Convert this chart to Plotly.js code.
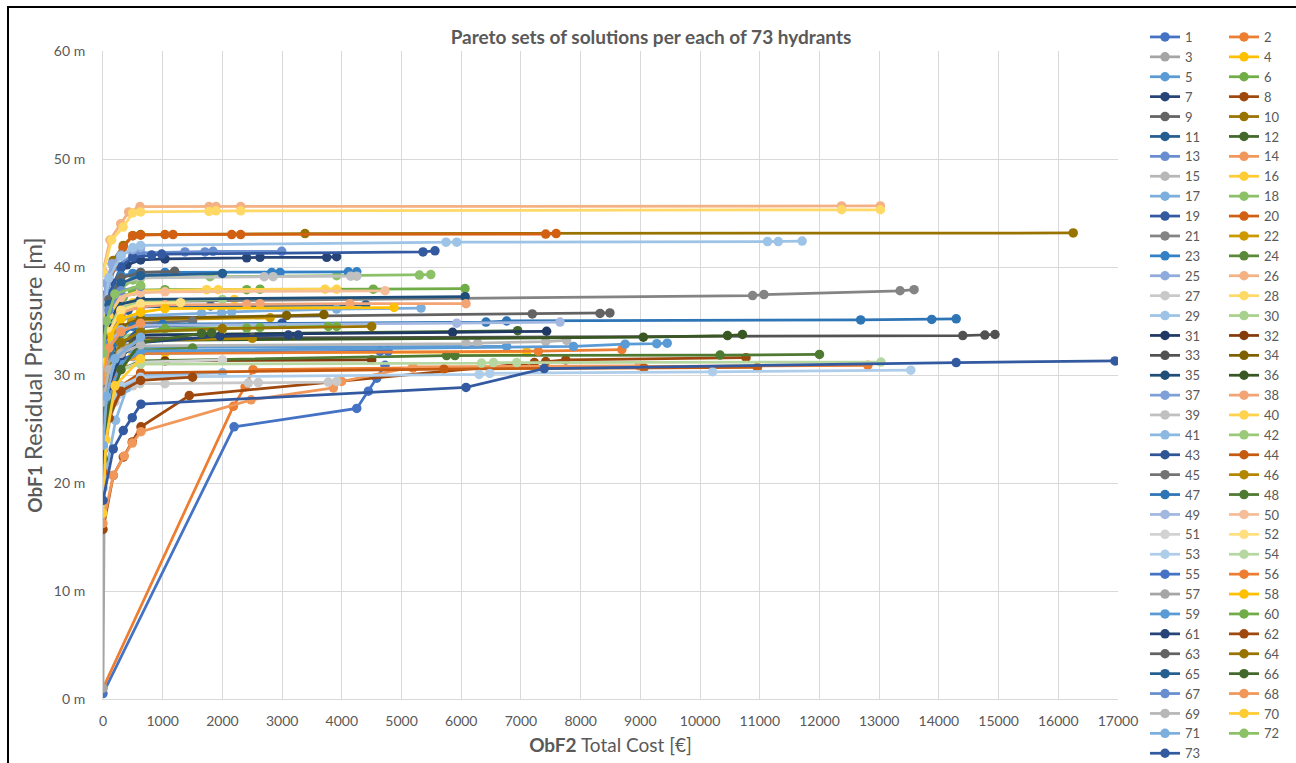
<!DOCTYPE html>
<html>
<head>
<meta charset="utf-8">
<script src="https://cdn.plot.ly/plotly-3.0.1.min.js"></script>
<style>
  html, body { margin: 0; padding: 0; background: #ffffff; overflow: hidden; }
  #chart { position: absolute; left: 0; top: 0; width: 1296px; height: 763px; }
  #frame { position: absolute; left: 7px; top: 6px; width: 1400px; height: 900px;
           border-left: 2px solid #000; border-top: 2px solid #000; pointer-events: none; z-index: 5; }
</style>
</head>
<body>
<div id="chart"></div>
<div id="frame"></div>
<script>
// ---- DATA: one Pareto set per hydrant (cost in €, residual pressure in m) ----
const hydrants = Array.from({length: 73}, (_, i) => String(i + 1));

const cost = [
  /* 1 */ [0, 2195, 4250, 4445, 4585, 4724],
  /* 2 */ [0, 2183, 2380, 2513, 5190, 12810],
  /* 3 */ [0, 30, 150, 330, 500, 630],
  /* 4 */ [0, 120, 340, 500, 630, 1038, 7095],
  /* 5 */ [0, 80, 250, 480, 630, 6760],
  /* 6 */ [0, 80, 200, 340, 500, 630, 1038, 2407, 2630, 4527, 6063],
  /* 7 */ [0, 60, 200, 400, 630, 1038, 2407, 2630, 3747, 3913],
  /* 8 */ [0, 172, 340, 490, 636, 1445, 7225, 7415, 7750, 10770],
  /* 9 */ [0, 110, 300, 500, 630, 7190, 8325, 8490],
  /* 10 */ [0, 170, 340, 500, 630, 3383, 16250],
  /* 11 */ [0, 70, 220, 420, 630, 1800, 4400],
  /* 12 */ [0, 90, 260, 500, 630, 6945],
  /* 13 */ [0, 60, 200, 500, 630, 1373, 1708, 1843, 2993],
  /* 14 */ [0, 172, 357, 490, 636, 2480, 3858, 3998, 5190, 8980],
  /* 15 */ [0, 100, 300, 630, 6080, 6275, 7415, 7765],
  /* 16 */ [0, 90, 260, 500, 630, 2200],
  /* 17 */ [0, 80, 250, 630, 1651, 1986, 2156, 3913, 5327],
  /* 18 */ [0, 100, 300, 500, 630, 1792, 3914, 5300, 5490],
  /* 19 */ [0, 100, 300, 500, 815, 983, 5360, 5560],
  /* 20 */ [0, 335, 497, 630, 1038, 1173, 2156, 2306, 7415, 7590],
  /* 21 */ [0, 100, 300, 600, 10880, 11070, 13350, 13585],
  /* 22 */ [0, 80, 240, 480, 630, 2800],
  /* 23 */ [0, 100, 300, 500, 630, 1038, 2826, 2965, 4110, 4250],
  /* 24 */ [0, 110, 320, 630, 1500],
  /* 25 */ [0, 50, 150, 300, 500, 630],
  /* 26 */ [0, 117, 296, 430, 620, 1776, 1893, 2306, 12370, 13020],
  /* 27 */ [0, 200, 500, 620, 1038, 2434, 2600, 3774, 3914],
  /* 28 */ [0, 145, 337, 497, 630, 1776, 1893, 2306, 12370, 13020],
  /* 29 */ [0, 100, 300, 500, 630, 5745, 5925, 11130, 11310, 11710],
  /* 30 */ [0, 100, 300, 630, 2000],
  /* 31 */ [0, 100, 300, 630, 5855, 7430],
  /* 32 */ [0, 100, 300, 630, 1038, 4500],
  /* 33 */ [0, 80, 250, 630, 14400, 14770, 14940],
  /* 34 */ [0, 100, 300, 630, 3075, 3700],
  /* 35 */ [0, 80, 250, 630, 6065],
  /* 36 */ [0, 100, 300, 630, 9050, 10460, 10710],
  /* 37 */ [0, 50, 150, 400, 630],
  /* 38 */ [0, 100, 300, 630, 1038, 2407, 2630, 4137, 6080],
  /* 39 */ [0, 100, 300, 630, 2700, 2850, 4150, 4250],
  /* 40 */ [0, 100, 300, 630, 1736, 1930, 3719, 3914],
  /* 41 */ [0, 211, 400, 630, 2000],
  /* 42 */ [0, 100, 300, 630, 2000],
  /* 43 */ [0, 90, 260, 630, 3000],
  /* 44 */ [0, 100, 300, 630, 5710, 9060, 10960],
  /* 45 */ [0, 100, 300, 630, 1500],
  /* 46 */ [0, 100, 300, 630, 2500],
  /* 47 */ [0, 200, 500, 1000, 6415, 6760, 12690, 13880, 14290],
  /* 48 */ [0, 100, 300, 630, 5755, 5895, 10335, 12000],
  /* 49 */ [0, 100, 300, 630, 5925, 7655],
  /* 50 */ [0, 100, 300, 630, 1038, 4724],
  /* 51 */ [0, 100, 300, 630, 2000],
  /* 52 */ [0, 100, 300, 630, 1300],
  /* 53 */ [0, 100, 300, 630, 6300, 6480, 10210, 13530],
  /* 54 */ [0, 100, 300, 630, 6340, 6540, 6930, 13030],
  /* 55 */ [0, 100, 300, 630, 4640, 4775],
  /* 56 */ [0, 100, 300, 630, 7290, 8690],
  /* 57 */ [0, 100, 300, 630],
  /* 58 */ [0, 100, 300, 630, 1038, 4875],
  /* 59 */ [0, 100, 300, 630, 7880, 8745, 9275, 9450],
  /* 60 */ [0, 100, 300, 630, 1038, 2407, 2630, 3774, 3914],
  /* 61 */ [0, 100, 300, 630, 1960, 3105, 3272],
  /* 62 */ [0, 100, 300, 630, 1500],
  /* 63 */ [0, 100, 300, 630, 1200],
  /* 64 */ [0, 100, 300, 630, 2000, 4500],
  /* 65 */ [0, 100, 300, 630, 2000],
  /* 66 */ [0, 100, 300, 630, 1651, 1820],
  /* 67 */ [0, 100, 300, 630],
  /* 68 */ [0, 100, 300, 630],
  /* 69 */ [0, 100, 300, 630],
  /* 70 */ [0, 50, 200, 630],
  /* 71 */ [0, 60, 200, 630],
  /* 72 */ [0, 60, 200, 630],
  /* 73 */ [0, 172, 340, 490, 636, 6080, 7390, 14290, 16950]
];

const pressure = [
  /* 1 */ [0.5, 25.2, 26.9, 28.5, 29.7, 30.9],
  /* 2 */ [1.0, 27.1, 28.9, 30.5, 30.65, 30.9],
  /* 3 */ [1.0, 25.5, 29.0, 31.0, 31.7, 32.0],
  /* 4 */ [26.5, 29.8, 31.2, 31.8, 32.0, 32.05, 32.15],
  /* 5 */ [25.5, 30.0, 31.8, 32.4, 32.55, 32.65],
  /* 6 */ [27.2, 33.0, 36.0, 37.2, 37.75, 37.85, 37.9, 37.9, 37.95, 37.95, 38.0],
  /* 7 */ [30.0, 35.0, 38.5, 40.2, 40.65, 40.75, 40.85, 40.9, 40.9, 40.95],
  /* 8 */ [15.7, 20.7, 22.4, 23.8, 25.2, 28.1, 31.15, 31.25, 31.4, 31.6],
  /* 9 */ [27.0, 31.5, 34.0, 35.0, 35.3, 35.65, 35.7, 35.75],
  /* 10 */ [36.0, 40.6, 42.0, 42.9, 43.0, 43.1, 43.15],
  /* 11 */ [28.5, 32.5, 35.0, 36.0, 36.3, 36.4, 36.5],
  /* 12 */ [22.1, 27.5, 31.0, 33.2, 33.7, 34.1],
  /* 13 */ [34.5, 37.5, 40.0, 41.1, 41.3, 41.4, 41.4, 41.45, 41.45],
  /* 14 */ [16.25, 20.7, 22.5, 23.7, 24.75, 27.7, 28.8, 29.4, 30.75, 30.85],
  /* 15 */ [26.0, 30.0, 32.0, 32.7, 32.9, 32.95, 33.1, 33.2],
  /* 16 */ [31.5, 34.5, 36.0, 36.7, 36.9, 37.0],
  /* 17 */ [29.0, 33.0, 35.0, 35.5, 35.7, 35.75, 35.85, 36.1, 36.2],
  /* 18 */ [31.0, 35.5, 38.0, 38.8, 39.0, 39.1, 39.2, 39.25, 39.3],
  /* 19 */ [33.0, 37.5, 40.0, 40.9, 41.1, 41.2, 41.4, 41.5],
  /* 20 */ [37.2, 41.8, 42.9, 42.95, 43.0, 43.0, 43.0, 43.0, 43.05, 43.1],
  /* 21 */ [30.0, 33.5, 35.5, 36.8, 37.35, 37.45, 37.8, 37.9],
  /* 22 */ [28.0, 32.0, 34.0, 34.9, 35.1, 35.3],
  /* 23 */ [33.9, 37.0, 39.2, 39.4, 39.5, 39.5, 39.5, 39.5, 39.55, 39.55],
  /* 24 */ [25.0, 29.0, 31.2, 32.3, 32.5],
  /* 25 */ [36.0, 38.5, 40.3, 41.1, 41.6, 41.8],
  /* 26 */ [39.6, 42.5, 44.0, 45.1, 45.6, 45.6, 45.6, 45.6, 45.65, 45.65],
  /* 27 */ [23.0, 27.5, 29.0, 29.2, 29.2, 29.25, 29.3, 29.35, 29.4],
  /* 28 */ [39.4, 42.5, 43.7, 45.0, 45.1, 45.15, 45.2, 45.2, 45.3, 45.3],
  /* 29 */ [35.0, 39.0, 41.0, 41.8, 42.0, 42.3, 42.3, 42.35, 42.35, 42.4],
  /* 30 */ [31.4, 34.5, 36.2, 36.8, 37.0],
  /* 31 */ [27.4, 31.0, 33.0, 33.7, 33.95, 34.05],
  /* 32 */ [25.0, 28.5, 30.5, 31.2, 31.3, 31.4],
  /* 33 */ [29.0, 31.5, 33.0, 33.4, 33.65, 33.7, 33.75],
  /* 34 */ [28.0, 32.0, 34.5, 35.2, 35.5, 35.6],
  /* 35 */ [31.0, 34.5, 36.5, 37.0, 37.25],
  /* 36 */ [26.3, 30.0, 32.5, 33.2, 33.5, 33.65, 33.75],
  /* 37 */ [24.0, 28.0, 31.0, 32.5, 33.0],
  /* 38 */ [30.9, 34.0, 35.8, 36.3, 36.5, 36.55, 36.6, 36.6, 36.6],
  /* 39 */ [32.5, 36.5, 38.5, 39.0, 39.1, 39.1, 39.15, 39.15],
  /* 40 */ [32.0, 35.5, 37.2, 37.8, 37.9, 37.9, 37.95, 37.95],
  /* 41 */ [19.5, 25.8, 28.8, 30.0, 30.2],
  /* 42 */ [27.5, 31.5, 33.5, 34.0, 34.2],
  /* 43 */ [24.6, 29.5, 32.5, 34.5, 34.8],
  /* 44 */ [21.0, 26.0, 29.0, 30.2, 30.55, 30.65, 30.7],
  /* 45 */ [29.1, 32.0, 34.0, 34.8, 35.0],
  /* 46 */ [27.0, 30.5, 32.5, 33.2, 33.4],
  /* 47 */ [28.0, 33.0, 34.5, 34.7, 34.9, 35.0, 35.1, 35.15, 35.2],
  /* 48 */ [24.0, 28.0, 30.5, 31.3, 31.8, 31.8, 31.85, 31.9],
  /* 49 */ [30.0, 33.0, 34.2, 34.6, 34.8, 34.9],
  /* 50 */ [33.0, 36.0, 37.2, 37.6, 37.7, 37.8],
  /* 51 */ [25.0, 28.5, 30.5, 31.2, 31.4],
  /* 52 */ [31.0, 34.0, 36.0, 36.6, 36.7],
  /* 53 */ [22.5, 27.0, 29.0, 29.8, 30.05, 30.15, 30.3, 30.45],
  /* 54 */ [25.0, 29.0, 30.5, 31.0, 31.1, 31.15, 31.15, 31.2],
  /* 55 */ [26.0, 29.0, 31.5, 32.0, 32.2, 32.2],
  /* 56 */ [23.0, 28.5, 31.0, 32.0, 32.2, 32.35],
  /* 57 */ [28.0, 31.0, 32.5, 33.0],
  /* 58 */ [30.0, 33.5, 35.2, 35.8, 36.15, 36.25],
  /* 59 */ [23.4, 28.0, 31.0, 32.2, 32.65, 32.85, 32.9, 32.95],
  /* 60 */ [26.0, 30.5, 33.0, 34.0, 34.3, 34.35, 34.4, 34.5, 34.5],
  /* 61 */ [24.5, 29.0, 31.8, 33.0, 33.6, 33.7, 33.7],
  /* 62 */ [22.3, 26.0, 28.5, 29.5, 29.8],
  /* 63 */ [33.5, 37.0, 39.0, 39.5, 39.6],
  /* 64 */ [26.5, 30.5, 33.0, 34.0, 34.3, 34.5],
  /* 65 */ [33.0, 36.5, 38.5, 39.2, 39.4],
  /* 66 */ [22.2, 27.0, 30.5, 33.0, 33.85, 33.9],
  /* 67 */ [33.0, 36.0, 37.8, 38.2],
  /* 68 */ [29.5, 32.5, 34.0, 34.8],
  /* 69 */ [27.5, 30.5, 32.0, 32.8],
  /* 70 */ [17.2, 24.0, 29.0, 31.5],
  /* 71 */ [23.5, 28.0, 31.5, 33.5],
  /* 72 */ [32.0, 35.0, 37.5, 38.3],
  /* 73 */ [18.4, 23.15, 24.85, 26.05, 27.3, 28.85, 30.6, 31.15, 31.3]
];

const xTickValues = [0, 1000, 2000, 3000, 4000, 5000, 6000, 7000, 8000, 9000,
                     10000, 11000, 12000, 13000, 14000, 15000, 16000, 17000];
const yTickValues = [0, 10, 20, 30, 40, 50, 60];

// ---- STYLE: Office colour cycle (54 colours, then repeats) ----
const palette = [
  '#4472C4','#ED7D31','#A5A5A5','#FFC000','#5B9BD5','#70AD47',
  '#264478','#9E480E','#636363','#997300','#255E91','#43682B',
  '#698ED0','#F1975A','#B7B7B7','#FFCD33','#7CAFDD','#8CC168',
  '#335AA1','#D26012','#848484','#CC9A00','#3480C6','#5A8A39',
  '#8FAADC','#F4B183','#C9C9C9','#FFD966','#9DC3E6','#A9D18E',
  '#203864','#843C0C','#525252','#7F6000','#1F4E79','#385723',
  '#7F9FD8','#F3A474','#C0C0C0','#FFD34D','#8CB9E2','#9AC97A',
  '#2F5597','#C55A11','#737373','#B38600','#2E75B6','#4E7A31',
  '#A2B8E1','#F6BE98','#D2D2D2','#FFDF80','#ADCDEA','#B7D7A0'
];

const textColor = '#595959';
const fontFamily = 'Lato, "Open Sans", "Liberation Sans", sans-serif';

function legendFor(n) {
  const odd = n % 2 === 1;
  if (n <= 38) return odd ? 'legend' : 'legend2';
  return odd ? 'legend3' : 'legend4';
}

const traces = hydrants.map((name, i) => ({
  type: 'scatter',
  mode: 'lines+markers',
  name: name,
  x: cost[i],
  y: pressure[i],
  line: { color: palette[i % 54], width: 2.75 },
  marker: { color: palette[i % 54], size: 9.5 },
  legend: legendFor(i + 1),
  hoverinfo: 'x+y+name'
}));

const legendFont = { family: fontFamily, size: 13, color: textColor };
const legendBase = { font: legendFont, xanchor: 'left', yanchor: 'top',
  xref: 'container', yref: 'container', maxheight: 1,
  bgcolor: 'rgba(0,0,0,0)', borderwidth: 0, tracegroupgap: 0, orientation: 'v' };

const layout = {
  width: 1296, height: 763,
  paper_bgcolor: '#ffffff', plot_bgcolor: '#ffffff',
  margin: { l: 103, r: 178, t: 51, b: 64, autoexpand: false },
  font: { family: fontFamily, color: textColor },
  title: {
    text: '<b>Pareto sets of solutions per each of 73 hydrants</b>',
    font: { family: fontFamily, size: 19, color: textColor },
    xref: 'container', x: 651 / 1296, xanchor: 'center',
    yref: 'container', y: 1 - 37 / 763, yanchor: 'middle'
  },
  xaxis: {
    range: [0, 17000], tickvals: xTickValues, ticktext: xTickValues.map(String),
    showgrid: true, gridcolor: '#D9D9D9', gridwidth: 1,
    zeroline: false, showline: true, linecolor: '#D9D9D9', linewidth: 1,
    ticks: 'outside', ticklen: 9, tickcolor: 'rgba(0,0,0,0)',
    tickfont: { family: fontFamily, size: 14, color: textColor },
    title: { text: '<b>ObF2</b> Total Cost [€]', standoff: 10,
             font: { family: fontFamily, size: 19, color: textColor } },
    automargin: false, fixedrange: true
  },
  yaxis: {
    range: [0, 60], tickvals: yTickValues, ticktext: yTickValues.map(v => v + ' m'),
    showgrid: true, gridcolor: '#D9D9D9', gridwidth: 1,
    zeroline: false, showline: true, linecolor: '#D9D9D9', linewidth: 1,
    ticks: 'outside', ticklen: 14, tickcolor: 'rgba(0,0,0,0)',
    tickfont: { family: fontFamily, size: 14, color: textColor },
    title: { text: '<b>ObF1</b> <span style="font-size:24px">Residual Pressure [m]</span>', standoff: 6,
             font: { family: fontFamily, size: 19, color: textColor } },
    automargin: false, fixedrange: true
  },
  showlegend: true,
  legend:  Object.assign({}, legendBase, { x: 1145 / 1296, y: 1 - 22 / 763 }),
  legend2: Object.assign({}, legendBase, { x: 1224 / 1296, y: 1 - 22 / 763 }),
  legend3: Object.assign({}, legendBase, { x: 1145 / 1296, y: 1 - 400 / 763 }),
  legend4: Object.assign({}, legendBase, { x: 1224 / 1296, y: 1 - 400 / 763 })
};

Plotly.newPlot('chart', traces, layout, { displayModeBar: false, responsive: false });
</script>
</body>
</html>
